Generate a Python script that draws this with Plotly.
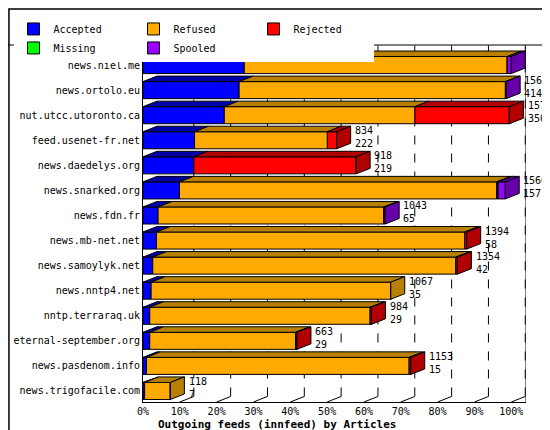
import plotly.graph_objects as go

FONT = "DejaVu Sans Mono"

servers = [
    "news.niel.me", "news.ortolo.eu", "nut.utcc.utoronto.ca", "feed.usenet-fr.net",
    "news.daedelys.org", "news.snarked.org", "news.fdn.fr", "news.mb-net.net",
    "news.samoylyk.net", "news.nntp4.net", "nntp.terraraq.uk", "eternal-september.org",
    "news.pasdenom.info", "news.trigofacile.com",
]
accepted = [436, 414, 350, 222, 219, 157, 65, 58, 42, 35, 29, 29, 15, 7]
refused = [1133, 1147, 821, 572, 0, 1366, 973, 1328, 1305, 1032, 949, 628, 1131, 111]
rejected = [0, 0, 407, 40, 699, 5, 0, 8, 7, 0, 6, 6, 7, 0]
missing = [0, 0, 0, 0, 0, 2, 0, 0, 0, 0, 0, 0, 0, 0]
spooled = [17, 3, 0, 0, 0, 30, 5, 0, 0, 0, 0, 0, 0, 0]
totals = [1586, 1564, 1578, 834, 918, 1560, 1043, 1394, 1354, 1067, 984, 663, 1153, 118]
ticks = [0, 10, 20, 30, 40, 50, 60, 70, 80, 90, 100]

series = [
    ("Accepted", accepted, "#0000FF", "#0000A8"),
    ("Refused", refused, "#FFAA00", "#B88000"),
    ("Rejected", rejected, "#FF0000", "#B00000"),
    ("Missing", missing, "#00FF00", "#00A800"),
    ("Spooled", spooled, "#9900FF", "#6600AA"),
]

scale = 100.0 / max(totals)
DX, DY, H = 3.8, 0.22, 0.68
rows = list(range(len(servers)))

fig = go.Figure()
base = [0.0] * len(servers)
last_color = [None] * len(servers)
for name, vals, col, dark in series:
    pct = [v * scale for v in vals]
    fig.add_trace(go.Bar(
        y=rows, x=pct, base=base, orientation="h", width=H, name=name,
        marker=dict(color=col, line=dict(color="black", width=1)),
    ))
    tx, ty = [], []
    for i in rows:
        if vals[i] == 0:
            continue
        x0, x1, yt = base[i], base[i] + pct[i], i - H / 2
        tx += [x0, x0 + DX, x1 + DX, x1, x0, None]
        ty += [yt, yt - DY, yt - DY, yt, yt, None]
        last_color[i] = dark
    fig.add_trace(go.Scatter(
        x=tx, y=ty, fill="toself", fillcolor=dark, mode="lines",
        line=dict(color="black", width=1), showlegend=False, hoverinfo="skip",
    ))
    base = [b + p for b, p in zip(base, pct)]

# side faces
for dark in {c for c in last_color if c}:
    sx, sy = [], []
    for i in rows:
        if last_color[i] != dark:
            continue
        x1, yt, yb = base[i], i - H / 2, i + H / 2
        sx += [x1, x1 + DX, x1 + DX, x1, x1, None]
        sy += [yt, yt - DY, yb - DY, yb, yt, None]
    fig.add_trace(go.Scatter(
        x=sx, y=sy, fill="toself", fillcolor=dark, mode="lines",
        line=dict(color="black", width=1), showlegend=False, hoverinfo="skip",
    ))

for i in rows:
    fig.add_annotation(
        x=base[i] + DX + 0.6, y=i - 0.12, text=f"{totals[i]}<br>{accepted[i]}",
        showarrow=False, xanchor="left", yanchor="middle", align="left",
        font=dict(family=FONT, size=10, color="black"),
    )

for t in ticks[1:]:
    fig.add_shape(type="line", x0=t + DX, x1=t + DX, y0=13.44 - DY, y1=-0.8,
                  line=dict(color="black", width=1, dash="dash"), layer="below")
    fig.add_shape(type="line", x0=t, x1=t + DX, y0=13.44, y1=13.44 - DY,
                  line=dict(color="black", width=1), layer="below")

fig.add_shape(type="line", xref="paper", yref="paper", x0=-0.3525, x1=1.0836, y0=1, y1=1,
              line=dict(color="black", width=1))
fig.add_shape(type="line", x0=104, x1=104, y0=13.44, y1=-0.8,
              line=dict(color="black", width=1))
fig.add_shape(type="rect", xref="paper", yref="paper", x0=-0.35, x1=1.081, y0=-0.098, y1=1.101,
              line=dict(color="black", width=1.5))

fig.add_annotation(
    xref="paper", yref="paper", x=0.035, y=-0.062, text="<b>Outgoing feeds (innfeed) by Articles</b>",
    showarrow=False, xanchor="left", yanchor="middle", font=dict(family=FONT, size=11, color="black"),
)

fig.update_xaxes(
    range=[0, 104], tickvals=ticks, ticktext=[f"{t}%" for t in ticks],
    showgrid=False, zeroline=False, showline=True, linecolor="black",
    tickfont=dict(family=FONT, size=10, color="black"), fixedrange=True,
)
fig.update_yaxes(
    range=[13.44, -0.8], tickvals=rows, ticktext=servers, showgrid=False,
    zeroline=False, showline=True, linecolor="black", ticks="",
    tickfont=dict(family=FONT, size=10, color="black"), fixedrange=True,
)
fig.update_layout(
    width=550, height=430, barmode="overlay",
    margin=dict(l=135, r=32, t=37, b=36, autoexpand=False),
    plot_bgcolor="white", paper_bgcolor="white",
    font=dict(family=FONT, size=10, color="black"),
    legend=dict(orientation="h", xref="container", yref="container", x=0.01, y=0.985,
                xanchor="left", yanchor="top", entrywidth=75, itemwidth=30,
                traceorder="normal", font=dict(family=FONT, size=10)),
)

fig.write_html("out.html")
